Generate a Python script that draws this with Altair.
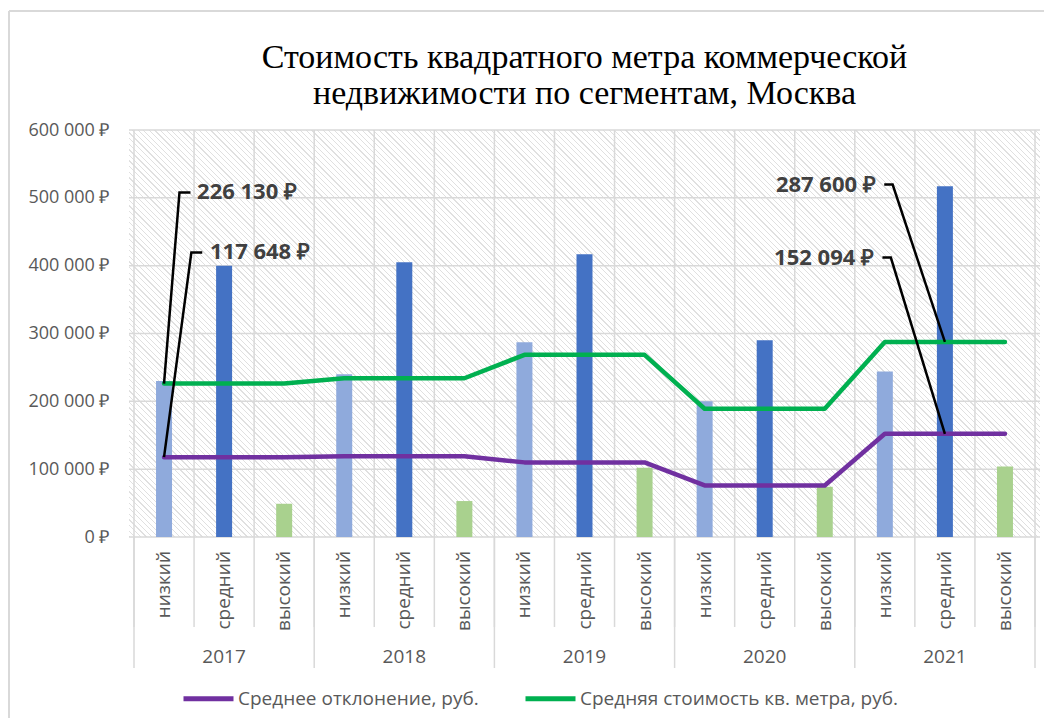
import altair as alt
import pandas as pd

# ---------------- data ----------------
years = ["2017", "2018", "2019", "2020", "2021"]
segments = ["низкий", "средний", "высокий"]
price_low = [230000, 240000, 287000, 200000, 244000]
price_mid = [400000, 405000, 417000, 290000, 517000]
price_high = [49000, 53000, 102000, 74000, 104000]
avg_price = [226130, 234000, 268500, 189000, 287600]
avg_dev = [117648, 119000, 110000, 76000, 152094]
series_names = ["Среднее отклонение, руб.", "Средняя стоимость кв. метра, руб."]
y_ticks = [0, 100000, 200000, 300000, 400000, 500000, 600000]
title_lines = ["Стоимость квадратного метра коммерческой",
               "недвижимости по сегментам, Москва"]

# ---------------- styles / layout ----------------
segment_colors = ["#8faadc", "#4472c4", "#a9d18e"]
series_colors = ["#7030a0", "#00b050"]
W, H = 911, 407
FONT = "Open Sans"
GRID = "#d9d9d9"
TXT = "#595959"

# callouts: (series values, year index, segment index, elbow x offset, elbow y, end x offset, text x offset, align)
callouts = [
    (avg_price, 0, 0, 0.257, 508000, 0.44, 0.55, "left"),
    (avg_dev, 0, 0, 0.455, 419500, 0.636, 0.765, "left"),
    (avg_price, 4, 1, -0.87, 519500, -1.01, -1.15, "right"),
    (avg_dev, 4, 1, -0.90, 412000, -1.04, -1.18, "right"),
]

# ---------------- tables ----------------
seg_vals = [price_low, price_mid, price_high]
rows = []
for yi, yr in enumerate(years):
    for si, seg in enumerate(segments):
        rows.append(dict(idx=yi * len(segments) + si, year=yr, segment=seg,
                         price=seg_vals[si][yi]))
df = pd.DataFrame(rows)
n = len(df)

line_rows = []
for yi, yr in enumerate(years):
    for si in range(len(segments)):
        idx = yi * len(segments) + si
        line_rows.append(dict(idx=idx, series=series_names[0], value=avg_dev[yi]))
        line_rows.append(dict(idx=idx, series=series_names[1], value=avg_price[yi]))
df_lines = pd.DataFrame(line_rows)

bounds = pd.DataFrame({"b": [i - 0.5 for i in range(n + 1)]})
year_bounds = pd.DataFrame({"b": [yi * len(segments) - 0.5 for yi in range(len(years) + 1)]})
year_centers = pd.DataFrame({"c": [yi * len(segments) + (len(segments) - 1) / 2 for yi in range(len(years))],
                             "year": years})
df_ticks = pd.DataFrame({"v": y_ticks})

lead_rows, lab_rows = [], []
for k, (ser, yi, si, ex, ey, endx, tx, al) in enumerate(callouts):
    px = yi * len(segments) + si
    py = ser[yi]
    lead_rows += [dict(id=k, o=0, x=px, y=py), dict(id=k, o=1, x=px + ex, y=ey),
                  dict(id=k, o=2, x=px + endx, y=ey)]
    lab_rows.append(dict(x=px + tx, y=ey, align=al,
                         label=f"{py:,}".replace(",", " ") + " ₽"))
df_lead = pd.DataFrame(lead_rows)
df_lab = pd.DataFrame(lab_rows)

xs = alt.Scale(domain=[-0.5, n - 0.5], nice=False, zero=False)
ys = alt.Scale(domain=[0, 600000], nice=False)

one = pd.DataFrame({"a": [0]})

# ---------------- hatch background (gradient stripes) ----------------
s = W + H
lam = s / (W * W + H * H)
a, b = W * lam, -H * lam
N = 235
wfrac = 0.22
HC = "#e0e0e0"
stops = []
for i in range(N):
    t0 = i / N
    t1 = (i + wfrac) / N
    t2 = (i + 1) / N
    stops += [{"offset": t0, "color": HC}, {"offset": t1, "color": HC},
              {"offset": t1, "color": "#ffffff"}, {"offset": t2, "color": "#ffffff"}]
grad = {"gradient": "linear", "x1": 0, "y1": 1, "x2": a, "y2": 1 + b, "stops": stops}

yaxis = alt.Axis(values=y_ticks, grid=False, ticks=False, domain=False, title=None,
                 labelExpr="replace(format(datum.value, ',d'), regexp(',', 'g'), ' ') + ' ₽'",
                 labelFont=FONT, labelFontSize=18, labelColor=TXT, labelPadding=20)

hatch = alt.Chart(one).mark_rect(fill=grad).encode(
    x=alt.value(0), x2=alt.value(W), y=alt.value(0), y2=alt.value(H))

hgrid = alt.Chart(df_ticks).mark_rule(color=GRID, strokeWidth=1.5).encode(
    y=alt.Y("v:Q", scale=ys, axis=yaxis), x=alt.value(0), x2=alt.value(W))

vgrid = alt.Chart(bounds).mark_rule(color=GRID, strokeWidth=1.5).encode(
    x=alt.X("b:Q", scale=xs, axis=None), y=alt.value(0), y2=alt.value(H + 90))

ysep = alt.Chart(year_bounds).mark_rule(color=GRID, strokeWidth=1.5).encode(
    x=alt.X("b:Q", scale=xs, axis=None), y=alt.value(H), y2=alt.value(H + 131))

bars = alt.Chart(df).mark_bar(size=16).encode(
    x=alt.X("idx:Q", scale=xs, axis=None),
    y=alt.Y("price:Q", scale=ys, axis=yaxis),
    color=alt.Color("segment:N", scale=alt.Scale(domain=segments, range=segment_colors), legend=None),
)

lines = alt.Chart(df_lines).mark_line(strokeWidth=4.5, strokeCap="round", strokeJoin="round").encode(
    x=alt.X("idx:Q", scale=xs, axis=None),
    y=alt.Y("value:Q", scale=ys, axis=yaxis),
    color=alt.Color("series:N", scale=alt.Scale(domain=series_names, range=series_colors),
                    legend=alt.Legend(orient="none", legendX=52, legendY=541, direction="horizontal",
                                      title=None, symbolType="stroke", symbolSize=2500,
                                      symbolStrokeWidth=5, labelFont=FONT, labelFontSize=19,
                                      labelColor=TXT, columnPadding=36, labelOffset=2,
                                      labelLimit=500)),
)

leads = alt.Chart(df_lead).mark_line(color="black", strokeWidth=2.5).encode(
    x=alt.X("x:Q", scale=xs, axis=None), y=alt.Y("y:Q", scale=ys, axis=yaxis),
    detail="id:N", order="o:Q")

lab_l = alt.Chart(df_lab).transform_filter("datum.align == 'left'").mark_text(
    align="left", baseline="middle", font=FONT, fontSize=22, fontWeight="bold", color="#404040").encode(
    x=alt.X("x:Q", scale=xs, axis=None), y=alt.Y("y:Q", scale=ys, axis=yaxis), text="label:N")
lab_r = alt.Chart(df_lab).transform_filter("datum.align == 'right'").mark_text(
    align="right", baseline="middle", font=FONT, fontSize=22, fontWeight="bold", color="#404040").encode(
    x=alt.X("x:Q", scale=xs, axis=None), y=alt.Y("y:Q", scale=ys, axis=yaxis), text="label:N")

seg_labels = alt.Chart(df).mark_text(angle=270, align="right", baseline="middle",
                                     font=FONT, fontSize=19, color=TXT).encode(
    x=alt.X("idx:Q", scale=xs, axis=None), y=alt.value(H + 14), text="segment:N")

year_labels = alt.Chart(year_centers).mark_text(baseline="middle", font=FONT, fontSize=19, color=TXT).encode(
    x=alt.X("c:Q", scale=xs, axis=None), y=alt.value(H + 120), text="year:N")

title = alt.Chart(one).mark_text(text=title_lines, font="Liberation Serif", fontSize=34, lineHeight=36,
                                 align="center", baseline="alphabetic", color="black").encode(
    x=alt.value(W / 2), y=alt.value(-62))

border_l = alt.Chart(one).mark_rule(color=GRID, strokeWidth=2).encode(
    x=alt.value(-120), y=alt.value(-119), y2=alt.value(588))
border_t = alt.Chart(one).mark_rule(color=GRID, strokeWidth=2).encode(
    x=alt.value(-120), x2=alt.value(915), y=alt.value(-119))

chart = alt.layer(hatch, hgrid, vgrid, ysep, bars, lines, leads, lab_l, lab_r,
                  seg_labels, year_labels, title, border_l, border_t).resolve_scale(
    color="independent").properties(
    width=W, height=H, padding={"left": 0, "top": 2, "right": 0, "bottom": 0}
).configure_view(stroke=None)

chart.save("out.html", embed_options={"renderer": "svg", "actions": False})
